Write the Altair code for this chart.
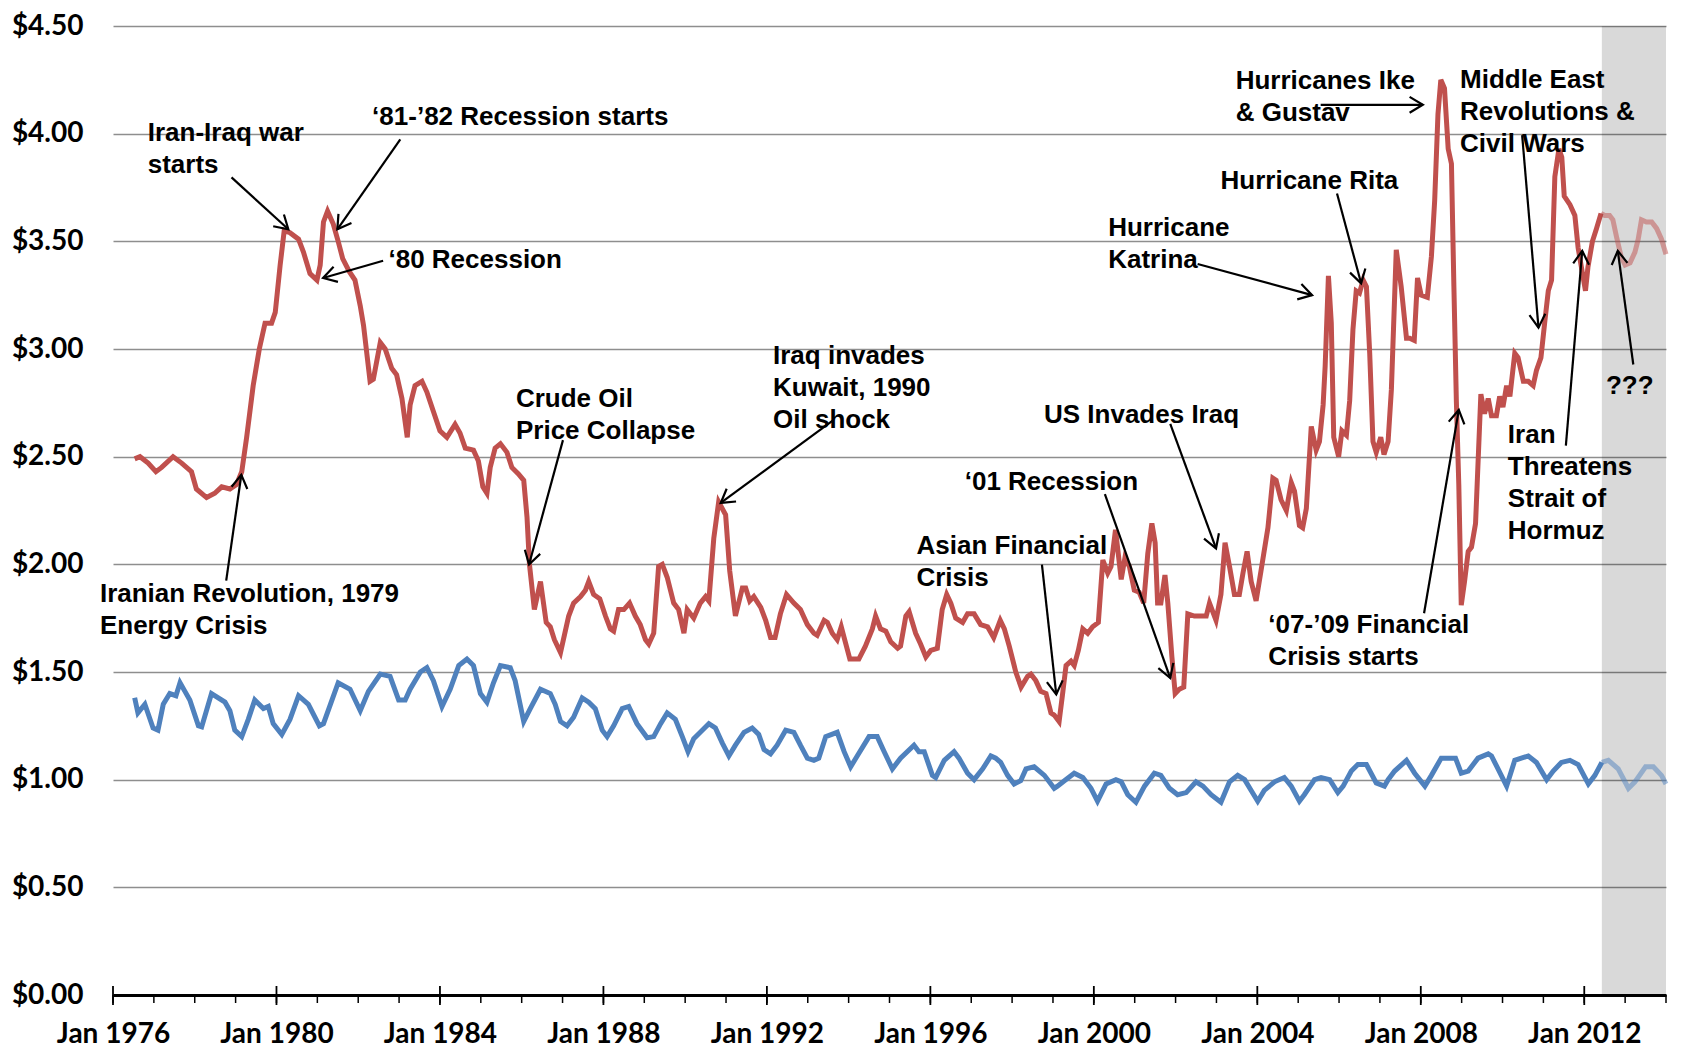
import math
import altair as alt
import pandas as pd

# ---------------- chart geometry ----------------
W, H = 1553, 969
X_MIN, X_MAX = 1976, 2014
Y_MAX = 4.5
FORECAST_START = 2012.43

# ---------------- data (decimal year, $) ----------------
gasoline_points = [
    (1976.53, 2.49), (1976.66, 2.50), (1976.86, 2.47), (1977.05, 2.43), (1977.19, 2.45), (1977.47, 2.50), (1977.68, 2.47), (1977.92, 2.43), (1978.04, 2.35), (1978.29, 2.31),
    (1978.49, 2.33), (1978.66, 2.36), (1978.86, 2.35), (1979.02, 2.37), (1979.15, 2.43), (1979.27, 2.59), (1979.43, 2.83), (1979.58, 3.00), (1979.72, 3.12), (1979.88, 3.12),
    (1979.97, 3.17), (1980.09, 3.39), (1980.19, 3.55), (1980.33, 3.54), (1980.54, 3.51), (1980.66, 3.45), (1980.82, 3.35), (1980.99, 3.32), (1981.07, 3.39), (1981.15, 3.59),
    (1981.25, 3.64), (1981.39, 3.58), (1981.51, 3.50), (1981.62, 3.42), (1981.78, 3.36), (1981.92, 3.32), (1982.05, 3.20), (1982.13, 3.11), (1982.29, 2.85), (1982.37, 2.86),
    (1982.54, 3.03), (1982.66, 3.00), (1982.82, 2.91), (1982.94, 2.88), (1983.07, 2.77), (1983.20, 2.59), (1983.27, 2.74), (1983.39, 2.83), (1983.56, 2.85), (1983.68, 2.80),
    (1983.84, 2.71), (1984.00, 2.62), (1984.17, 2.59), (1984.37, 2.65), (1984.49, 2.61), (1984.62, 2.54), (1984.82, 2.53), (1984.94, 2.48), (1985.05, 2.36), (1985.15, 2.33),
    (1985.23, 2.45), (1985.35, 2.54), (1985.48, 2.56), (1985.64, 2.52), (1985.76, 2.45), (1985.92, 2.42), (1986.05, 2.39), (1986.13, 2.22), (1986.19, 2.00), (1986.31, 1.79),
    (1986.46, 1.92), (1986.60, 1.73), (1986.70, 1.71), (1986.80, 1.65), (1986.95, 1.59), (1987.15, 1.76), (1987.27, 1.82), (1987.44, 1.85), (1987.56, 1.88), (1987.64, 1.92),
    (1987.76, 1.86), (1987.91, 1.84), (1988.05, 1.76), (1988.17, 1.70), (1988.25, 1.69), (1988.37, 1.79), (1988.50, 1.79), (1988.64, 1.82), (1988.78, 1.76), (1988.90, 1.72),
    (1989.03, 1.65), (1989.11, 1.63), (1989.23, 1.68), (1989.35, 1.99), (1989.44, 2.00), (1989.56, 1.94), (1989.72, 1.82), (1989.84, 1.79), (1989.97, 1.68), (1990.05, 1.79),
    (1990.21, 1.75), (1990.37, 1.82), (1990.50, 1.85), (1990.58, 1.83), (1990.70, 2.12), (1990.82, 2.29), (1990.99, 2.23), (1991.09, 1.97), (1991.23, 1.76), (1991.40, 1.89),
    (1991.48, 1.89), (1991.58, 1.83), (1991.68, 1.85), (1991.85, 1.80), (1991.97, 1.74), (1992.09, 1.66), (1992.20, 1.66), (1992.33, 1.77), (1992.48, 1.86), (1992.66, 1.82),
    (1992.82, 1.79), (1992.99, 1.72), (1993.15, 1.68), (1993.23, 1.67), (1993.40, 1.74), (1993.48, 1.73), (1993.60, 1.68), (1993.72, 1.65), (1993.82, 1.71), (1993.89, 1.66),
    (1994.03, 1.56), (1994.13, 1.56), (1994.25, 1.56), (1994.41, 1.62), (1994.58, 1.70), (1994.66, 1.76), (1994.78, 1.70), (1994.91, 1.69), (1995.03, 1.64), (1995.20, 1.61),
    (1995.27, 1.62), (1995.40, 1.76), (1995.48, 1.78), (1995.64, 1.68), (1995.76, 1.63), (1995.89, 1.57), (1996.01, 1.60), (1996.17, 1.61), (1996.29, 1.79), (1996.40, 1.86),
    (1996.50, 1.82), (1996.62, 1.75), (1996.79, 1.73), (1996.91, 1.77), (1997.07, 1.77), (1997.23, 1.72), (1997.40, 1.71), (1997.55, 1.66), (1997.71, 1.74), (1997.81, 1.70),
    (1997.93, 1.62), (1998.09, 1.50), (1998.22, 1.43), (1998.38, 1.48), (1998.46, 1.49), (1998.58, 1.46), (1998.70, 1.41), (1998.83, 1.40), (1998.95, 1.31), (1999.03, 1.30),
    (1999.15, 1.27), (1999.23, 1.39), (1999.32, 1.53), (1999.44, 1.55), (1999.52, 1.53), (1999.62, 1.60), (1999.73, 1.70), (1999.85, 1.68), (1999.97, 1.71), (2000.11, 1.73),
    (2000.22, 2.02), (2000.34, 1.96), (2000.42, 1.99), (2000.53, 2.16), (2000.67, 1.93), (2000.76, 2.03), (2000.87, 1.99), (2000.99, 1.88), (2001.11, 1.87), (2001.22, 1.82),
    (2001.32, 2.05), (2001.42, 2.19), (2001.50, 2.10), (2001.56, 1.82), (2001.64, 1.82), (2001.74, 1.95), (2001.81, 1.82), (2001.91, 1.57), (2001.99, 1.40), (2002.09, 1.42),
    (2002.20, 1.43), (2002.30, 1.77), (2002.46, 1.76), (2002.62, 1.76), (2002.75, 1.76), (2002.83, 1.82), (2002.99, 1.74), (2003.11, 1.86), (2003.21, 2.10), (2003.32, 1.99),
    (2003.44, 1.86), (2003.56, 1.86), (2003.65, 1.96), (2003.75, 2.06), (2003.85, 1.92), (2003.97, 1.83), (2004.09, 1.97), (2004.26, 2.17), (2004.38, 2.40), (2004.46, 2.39),
    (2004.58, 2.30), (2004.71, 2.25), (2004.83, 2.38), (2004.91, 2.34), (2005.03, 2.18), (2005.11, 2.17), (2005.20, 2.26), (2005.32, 2.64), (2005.44, 2.53), (2005.52, 2.57),
    (2005.61, 2.74), (2005.66, 2.92), (2005.74, 3.34), (2005.81, 3.12), (2005.87, 2.59), (2005.99, 2.50), (2006.07, 2.62), (2006.18, 2.60), (2006.26, 2.76), (2006.34, 3.09),
    (2006.42, 3.27), (2006.50, 3.26), (2006.59, 3.32), (2006.67, 3.29), (2006.75, 2.98), (2006.83, 2.57), (2006.91, 2.52), (2007.02, 2.59), (2007.10, 2.51), (2007.20, 2.57),
    (2007.28, 2.81), (2007.40, 3.46), (2007.52, 3.29), (2007.65, 3.05), (2007.73, 3.05), (2007.84, 3.04), (2007.92, 3.33), (2008.01, 3.25), (2008.16, 3.24), (2008.26, 3.43),
    (2008.34, 3.69), (2008.42, 4.09), (2008.49, 4.25), (2008.58, 4.21), (2008.67, 3.93), (2008.75, 3.86), (2008.81, 3.29), (2008.87, 2.76), (2008.93, 2.37), (2008.99, 1.81),
    (2009.07, 1.92), (2009.16, 2.06), (2009.24, 2.08), (2009.34, 2.19), (2009.47, 2.79), (2009.56, 2.70), (2009.65, 2.77), (2009.73, 2.69), (2009.85, 2.69), (2009.93, 2.78),
    (2010.01, 2.73), (2010.10, 2.83), (2010.18, 2.78), (2010.30, 2.98), (2010.38, 2.96), (2010.51, 2.85), (2010.63, 2.85), (2010.75, 2.83), (2010.83, 2.90), (2010.94, 2.96),
    (2011.03, 3.12), (2011.12, 3.27), (2011.20, 3.32), (2011.28, 3.80), (2011.38, 3.93), (2011.45, 3.89), (2011.51, 3.71), (2011.65, 3.67), (2011.77, 3.62), (2011.85, 3.47),
    (2011.93, 3.38), (2012.03, 3.27), (2012.09, 3.38), (2012.20, 3.50), (2012.30, 3.56), (2012.41, 3.63),
    (2012.50, 3.62), (2012.62, 3.62), (2012.70, 3.60), (2012.79, 3.52), (2012.90, 3.43), (2013.00, 3.39), (2013.12, 3.40), (2013.24, 3.45), (2013.32, 3.51), (2013.40, 3.60),
    (2013.52, 3.59), (2013.65, 3.59), (2013.77, 3.56), (2013.89, 3.51), (2014.00, 3.44),
]

other_points = [
    (1976.53, 1.38), (1976.61, 1.31), (1976.78, 1.35), (1976.98, 1.24), (1977.10, 1.23), (1977.23, 1.35), (1977.39, 1.40), (1977.54, 1.39), (1977.64, 1.45), (1977.76, 1.41),
    (1977.88, 1.37), (1978.09, 1.25), (1978.17, 1.245), (1978.41, 1.40), (1978.74, 1.36), (1978.86, 1.32), (1978.98, 1.23), (1979.15, 1.20), (1979.31, 1.28), (1979.47, 1.37),
    (1979.68, 1.33), (1979.80, 1.34), (1979.92, 1.26), (1980.13, 1.21), (1980.33, 1.28), (1980.54, 1.39), (1980.78, 1.35), (1981.05, 1.25), (1981.15, 1.26), (1981.32, 1.35),
    (1981.51, 1.45), (1981.80, 1.42), (1982.05, 1.32), (1982.25, 1.41), (1982.54, 1.49), (1982.78, 1.48), (1982.99, 1.37), (1983.15, 1.37), (1983.27, 1.42), (1983.52, 1.50),
    (1983.68, 1.52), (1983.84, 1.46), (1984.05, 1.34), (1984.25, 1.42), (1984.46, 1.53), (1984.66, 1.56), (1984.82, 1.53), (1984.99, 1.40), (1985.15, 1.36), (1985.31, 1.45),
    (1985.48, 1.53), (1985.72, 1.52), (1985.84, 1.46), (1986.05, 1.27), (1986.21, 1.33), (1986.46, 1.42), (1986.70, 1.40), (1986.82, 1.35), (1986.95, 1.27), (1987.11, 1.25),
    (1987.27, 1.29), (1987.48, 1.38), (1987.64, 1.36), (1987.80, 1.33), (1987.97, 1.23), (1988.09, 1.20), (1988.25, 1.25), (1988.46, 1.33), (1988.62, 1.34), (1988.82, 1.26),
    (1989.07, 1.195), (1989.23, 1.20), (1989.40, 1.26), (1989.56, 1.31), (1989.76, 1.28), (1989.93, 1.20), (1990.07, 1.13), (1990.21, 1.19), (1990.37, 1.22), (1990.58, 1.26),
    (1990.74, 1.24), (1990.91, 1.17), (1991.07, 1.11), (1991.23, 1.16), (1991.44, 1.22), (1991.64, 1.24), (1991.80, 1.21), (1991.93, 1.14), (1992.09, 1.12), (1992.25, 1.16),
    (1992.46, 1.23), (1992.66, 1.22), (1992.82, 1.16), (1992.99, 1.10), (1993.15, 1.09), (1993.27, 1.10), (1993.44, 1.20), (1993.72, 1.22), (1993.89, 1.13), (1994.05, 1.06),
    (1994.21, 1.11), (1994.50, 1.20), (1994.70, 1.20), (1994.87, 1.13), (1995.07, 1.05), (1995.27, 1.10), (1995.60, 1.16), (1995.72, 1.13), (1995.85, 1.13), (1996.05, 1.02),
    (1996.13, 1.01), (1996.34, 1.09), (1996.58, 1.13), (1996.70, 1.10), (1996.91, 1.03), (1997.07, 1.00), (1997.28, 1.05), (1997.48, 1.11), (1997.60, 1.10), (1997.72, 1.08),
    (1997.89, 1.02), (1998.05, 0.98), (1998.21, 0.995), (1998.34, 1.05), (1998.54, 1.06), (1998.79, 1.02), (1999.03, 0.96), (1999.11, 0.97), (1999.28, 0.995), (1999.52, 1.03),
    (1999.73, 1.01), (1999.93, 0.96), (2000.09, 0.90), (2000.30, 0.98), (2000.54, 1.00), (2000.67, 0.99), (2000.83, 0.93), (2001.03, 0.895), (2001.24, 0.97), (2001.48, 1.03),
    (2001.64, 1.02), (2001.85, 0.96), (2002.05, 0.93), (2002.26, 0.94), (2002.50, 0.99), (2002.67, 0.97), (2002.87, 0.93), (2003.11, 0.895), (2003.32, 0.99), (2003.52, 1.02),
    (2003.69, 1.00), (2003.85, 0.95), (2004.01, 0.90), (2004.17, 0.95), (2004.42, 0.99), (2004.66, 1.01), (2004.83, 0.97), (2005.03, 0.90), (2005.15, 0.93), (2005.40, 1.00),
    (2005.56, 1.01), (2005.77, 1.00), (2005.97, 0.94), (2006.10, 0.97), (2006.30, 1.04), (2006.46, 1.07), (2006.67, 1.07), (2006.91, 0.985), (2007.11, 0.97), (2007.20, 1.00),
    (2007.36, 1.04), (2007.65, 1.09), (2007.85, 1.03), (2008.10, 0.97), (2008.26, 1.02), (2008.50, 1.10), (2008.71, 1.10), (2008.85, 1.10), (2008.99, 1.03), (2009.16, 1.04),
    (2009.40, 1.10), (2009.65, 1.12), (2009.73, 1.11), (2009.89, 1.05), (2010.10, 0.97), (2010.30, 1.09), (2010.46, 1.10), (2010.63, 1.11), (2010.83, 1.08), (2011.08, 1.00),
    (2011.24, 1.04), (2011.44, 1.08), (2011.65, 1.09), (2011.85, 1.07), (2012.10, 0.98), (2012.26, 1.02), (2012.43, 1.08),
    (2012.59, 1.09), (2012.83, 1.05), (2013.08, 0.96), (2013.24, 0.99), (2013.50, 1.06), (2013.69, 1.06), (2013.89, 1.02), (2014.00, 0.98),
]

major_ticks = [1976, 1980, 1984, 1988, 1992, 1996, 2000, 2004, 2008, 2012]
minor_ticks = list(range(1976, 2015))
y_ticks = [0.0, 0.5, 1.0, 1.5, 2.0, 2.5, 3.0, 3.5, 4.0, 4.5]

# annotation: text lines, text anchor (year, $ of first line), arrow (from year, $, to year, $)
annotations = [
    (["Iran-Iraq war", "starts"], 1976.85, 4.003, (1978.90, 3.797, 1980.29, 3.556)),
    (["\u201881-\u201982 Recession starts"], 1982.34, 4.078, (1983.03, 3.973, 1981.49, 3.556)),
    (["\u201880 Recession"], 1982.74, 3.415, (1982.61, 3.410, 1981.14, 3.330)),
    (["Iranian Revolution, 1979", "Energy Crisis"], 1975.68, 1.863, (1978.77, 1.924, 1979.14, 2.416)),
    (["Crude Oil", "Price Collapse"], 1985.86, 2.767, (1987.01, 2.577, 1986.18, 1.999)),
    (["Iraq invades", "Kuwait, 1990", "Oil shock"], 1992.15, 2.968, (1993.61, 2.667, 1990.87, 2.285)),
    (["Asian Financial", "Crisis"], 1995.66, 2.084, (1998.73, 1.999, 1999.08, 1.396)),
    (["\u201801 Recession"], 1996.84, 2.381, (2000.27, 2.326, 2001.87, 1.472)),
    (["US Invades Iraq"], 1998.78, 2.692, (2001.87, 2.652, 2002.99, 2.074)),
    (["Hurricane", "Katrina"], 2000.35, 3.561, (2002.54, 3.395, 2005.34, 3.250)),
    (["Hurricane Rita"], 2003.10, 3.782, (2005.95, 3.722, 2006.54, 3.305)),
    (["Hurricanes Ike", "& Gustav"], 2003.47, 4.244, (2005.55, 4.134, 2008.05, 4.134)),
    (["Middle East", "Revolutions &", "Civil Wars"], 2008.96, 4.249, (2010.48, 3.993, 2010.88, 3.099)),
    (["Iran", "Threatens", "Strait of", "Hormuz"], 2010.13, 2.602, (2011.55, 2.551, 2011.95, 3.456)),
    (["???"], 2012.53, 2.828, (2013.20, 2.928, 2012.82, 3.456)),
    (["\u201807-\u201909 Financial", "Crisis starts"], 2004.27, 1.718, (2008.08, 1.773, 2008.93, 2.717)),
]

# ---------------- styling ----------------
RED = "#C0504D"
BLUE = "#4F81BD"
GRID = "#8e8e8e"
LINE_W = 5
LINE_STEP = 32 * Y_MAX / H  # one text line in $ units
ANN_FONT = "Liberation Sans"
AXIS_FONT = "Lato"


def split(points):
    df = pd.DataFrame(points, columns=["year", "price"])
    last = df[df["year"] <= FORECAST_START].index.max()
    return df.loc[:last].copy(), df.loc[last:].copy()


gas_act, gas_fc = split(gasoline_points)
oth_act, oth_fc = split(other_points)

text_rows = []
arrow_rows = []
for lines, ax, ay, (x1, y1, x2, y2) in annotations:
    for i, ln in enumerate(lines):
        text_rows.append({"label": ln, "year": ax, "price": ay - i * LINE_STEP})
    dx = (x2 - x1) * W / (X_MAX - X_MIN)
    dy = -(y2 - y1) * H / Y_MAX
    ang = math.degrees(math.atan2(dx, -dy)) % 360
    arrow_rows.append({"x1": x1, "y1": y1, "x2": x2, "y2": y2, "angle": ang})
text_df = pd.DataFrame(text_rows)
arrow_df = pd.DataFrame(arrow_rows)
band_df = pd.DataFrame({"start": [FORECAST_START], "end": [X_MAX]})
minor_df = pd.DataFrame({"year": minor_ticks})
major_df = pd.DataFrame({"year": major_ticks})

xscale = alt.Scale(domain=[X_MIN, X_MAX], nice=False, zero=False)
yscale = alt.Scale(domain=[0, Y_MAX], nice=False, zero=True)

main_x_axis = alt.Axis(
    values=major_ticks, labelExpr="'Jan ' + datum.value", title=None, grid=False,
    ticks=False, domain=True, domainColor="black", domainWidth=3,
    labelFont=AXIS_FONT, labelFontWeight="bold", labelFontSize=28, labelColor="black",
    labelPadding=25, labelFlush=False, labelOverlap=False,
)
y_axis = alt.Axis(
    values=y_ticks, format="$.2f", title=None, domain=False, ticks=False,
    grid=True, gridColor=GRID, gridWidth=1.6,
    labelFont=AXIS_FONT, labelFontWeight="bold", labelFontSize=28, labelColor="black",
    labelPadding=30,
)

gas_line = alt.Chart(gas_act).mark_line(color=RED, strokeWidth=LINE_W).encode(
    x=alt.X("year:Q", scale=xscale, axis=main_x_axis),
    y=alt.Y("price:Q", scale=yscale, axis=y_axis),
)
band = alt.Chart(band_df).mark_rect(color="black", opacity=0.15).encode(
    x=alt.X("start:Q", scale=xscale),
    x2="end:Q",
)
gas_fc_line = alt.Chart(gas_fc).mark_line(color=RED, strokeWidth=LINE_W, opacity=0.5).encode(
    x="year:Q", y="price:Q",
)
oth_line = alt.Chart(oth_act).mark_line(color=BLUE, strokeWidth=LINE_W).encode(
    x="year:Q", y="price:Q",
)
oth_fc_line = alt.Chart(oth_fc).mark_line(color=BLUE, strokeWidth=LINE_W, opacity=0.5).encode(
    x="year:Q", y="price:Q",
)

minor_marks = alt.Chart(minor_df).mark_rule(color="black", strokeWidth=1.5).encode(
    x="year:Q", y=alt.value(H), y2=alt.value(H + 8),
)
major_marks = alt.Chart(major_df).mark_rule(color="black", strokeWidth=1.8).encode(
    x="year:Q", y=alt.value(H - 9), y2=alt.value(H + 10),
)

shafts = alt.Chart(arrow_df).mark_rule(color="black", strokeWidth=2.2).encode(
    x=alt.X("x1:Q"), y=alt.Y("y1:Q"), x2="x2:Q", y2="y2:Q",
)
heads = alt.Chart(arrow_df).mark_point(
    shape="M -0.6 1 L 0 0 L 0.6 1", size=700, filled=False,
    color="black", strokeWidth=2.2, opacity=1,
).encode(
    x="x2:Q", y="y2:Q",
    angle=alt.Angle("angle:Q", scale=None),
)
labels = alt.Chart(text_df).mark_text(
    align="left", baseline="middle", font=ANN_FONT, fontWeight="bold",
    fontSize=26, color="black",
).encode(
    x="year:Q", y="price:Q", text="label:N",
)

chart = (
    alt.layer(gas_line, band, oth_line, oth_fc_line, gas_fc_line,
              minor_marks, major_marks, shafts, heads, labels)
    .properties(
        width=W, height=H,
        padding={"left": 105, "top": 18, "right": 20, "bottom": 54},
        autosize=alt.AutoSizeParams(type="none"),
    )
    .configure_view(stroke=None)
)

chart.save("out.html", embed_options={"renderer": "svg", "actions": False})
